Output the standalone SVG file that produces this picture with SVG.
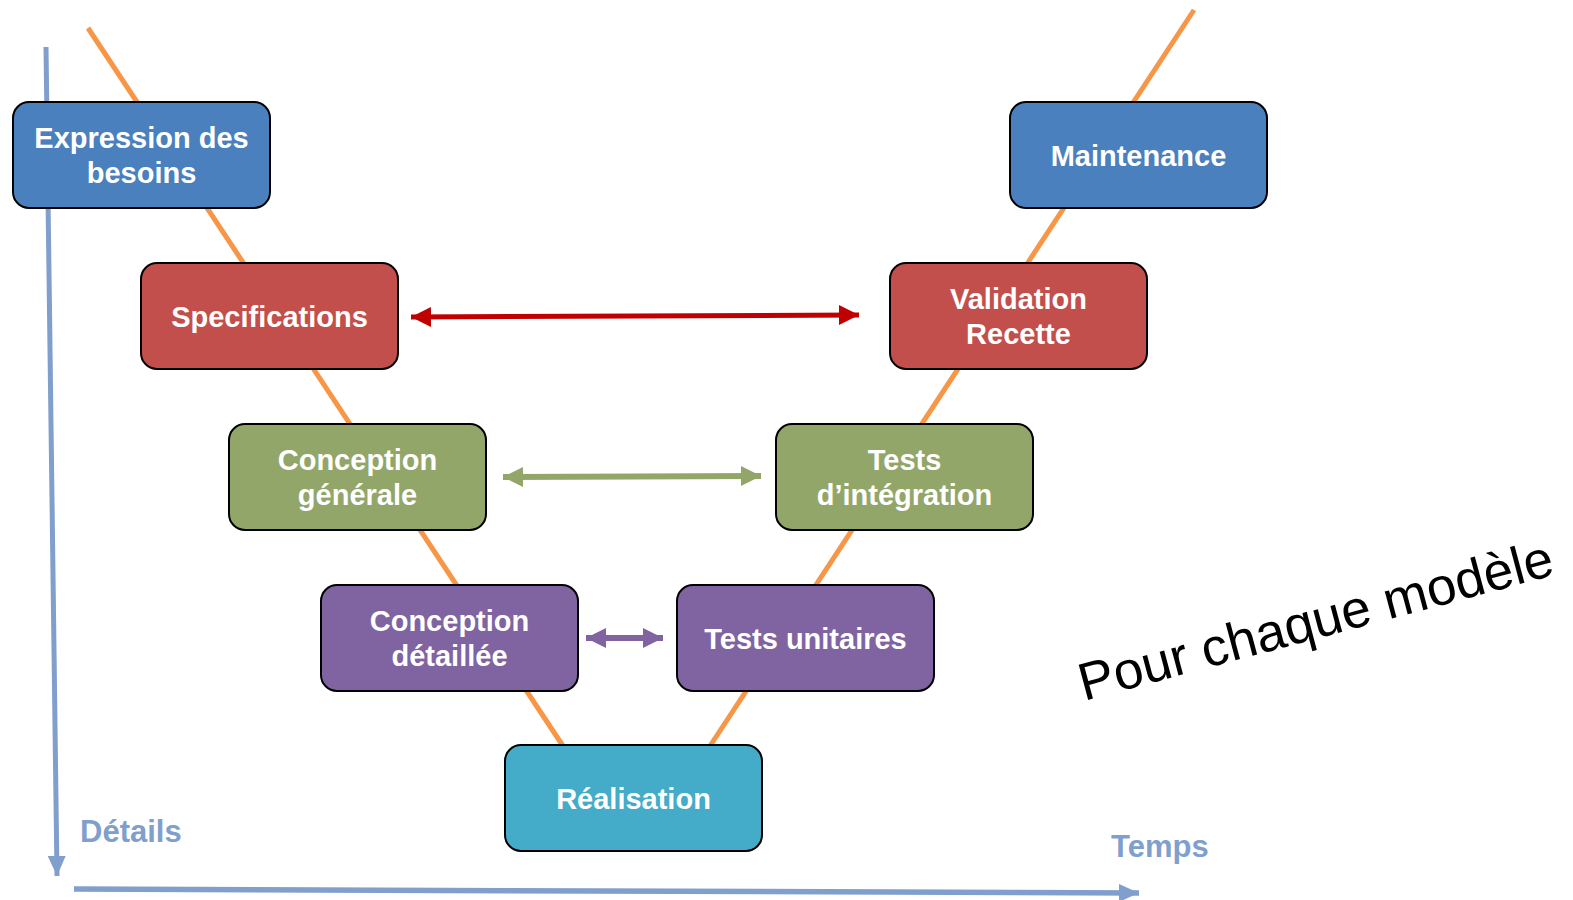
<svg xmlns="http://www.w3.org/2000/svg" width="1573" height="900" viewBox="0 0 1573 900">
<style>
.box{stroke:#000;stroke-width:2}
.lbl{font-family:"Liberation Sans",Arial,sans-serif;font-weight:bold;font-size:29px;fill:#fff;text-anchor:middle}
.ax{font-family:"Liberation Sans",Arial,sans-serif;font-weight:bold;font-size:31px;fill:#809FCC}
.v{stroke:#F79646;stroke-width:5;fill:none}
</style>
<defs>
<marker id="mr" markerUnits="userSpaceOnUse" markerWidth="22" markerHeight="22" refX="20" refY="11" orient="auto-start-reverse" viewBox="0 0 22 22"><path d="M0,1 L20,11 L0,21 Z" fill="#C00000"/></marker>
<marker id="mg" markerUnits="userSpaceOnUse" markerWidth="22" markerHeight="22" refX="20" refY="11" orient="auto-start-reverse" viewBox="0 0 22 22"><path d="M0,1 L20,11 L0,21 Z" fill="#93A66A"/></marker>
<marker id="mp" markerUnits="userSpaceOnUse" markerWidth="22" markerHeight="22" refX="20" refY="11" orient="auto-start-reverse" viewBox="0 0 22 22"><path d="M0,1 L20,11 L0,21 Z" fill="#8064A2"/></marker>
<marker id="ma" markerUnits="userSpaceOnUse" markerWidth="22" markerHeight="22" refX="20" refY="11" orient="auto" viewBox="0 0 22 22"><path d="M0,2 L20,11 L0,20 Z" fill="#809FCC"/></marker>
</defs>
<rect width="1573" height="900" fill="#fff"/>
<g id="connectors">
<line class="v" x1="88" y1="28" x2="563" y2="746"/>
<line class="v" x1="1194" y1="10" x2="710" y2="746"/>
<line x1="411" y1="317" x2="859" y2="315" stroke="#C00000" stroke-width="5" marker-start="url(#mr)" marker-end="url(#mr)"/>
<line x1="503" y1="477" x2="761" y2="476" stroke="#93A66A" stroke-width="6" marker-start="url(#mg)" marker-end="url(#mg)"/>
<line x1="586" y1="638" x2="663" y2="638" stroke="#8064A2" stroke-width="6" marker-start="url(#mp)" marker-end="url(#mp)"/>
<line x1="46" y1="47" x2="57" y2="876" stroke="#809FCC" stroke-width="5" marker-end="url(#ma)"/>
<line x1="74" y1="889" x2="1139" y2="893" stroke="#809FCC" stroke-width="5.5" marker-end="url(#ma)"/>
</g>
<g id="expression">
<rect class="box" x="13" y="102" width="257" height="106" rx="16" fill="#4A80BE"/>
<text class="lbl" x="141.5" y="148">Expression des</text>
<text class="lbl" x="141.5" y="183">besoins</text>
</g>
<g id="specifications">
<rect class="box" x="141" y="263" width="257" height="106" rx="16" fill="#C24F4B"/>
<text class="lbl" x="269.5" y="327">Specifications</text>
</g>
<g id="conception-generale">
<rect class="box" x="229" y="424" width="257" height="106" rx="16" fill="#93A66A"/>
<text class="lbl" x="357.5" y="470">Conception</text>
<text class="lbl" x="357.5" y="505">générale</text>
</g>
<g id="conception-detaillee">
<rect class="box" x="321" y="585" width="257" height="106" rx="16" fill="#8064A2"/>
<text class="lbl" x="449.5" y="631">Conception</text>
<text class="lbl" x="449.5" y="666">détaillée</text>
</g>
<g id="realisation">
<rect class="box" x="505" y="745" width="257" height="106" rx="16" fill="#44ACC8"/>
<text class="lbl" x="633.5" y="809">Réalisation</text>
</g>
<g id="tests-unitaires">
<rect class="box" x="677" y="585" width="257" height="106" rx="16" fill="#8064A2"/>
<text class="lbl" x="805.5" y="649">Tests unitaires</text>
</g>
<g id="tests-integration">
<rect class="box" x="776" y="424" width="257" height="106" rx="16" fill="#93A66A"/>
<text class="lbl" x="904.5" y="470">Tests</text>
<text class="lbl" x="904.5" y="505">d’intégration</text>
</g>
<g id="validation">
<rect class="box" x="890" y="263" width="257" height="106" rx="16" fill="#C24F4B"/>
<text class="lbl" x="1018.5" y="309">Validation</text>
<text class="lbl" x="1018.5" y="344">Recette</text>
</g>
<g id="maintenance">
<rect class="box" x="1010" y="102" width="257" height="106" rx="16" fill="#4A80BE"/>
<text class="lbl" x="1138.5" y="166">Maintenance</text>
</g>
<g id="labels">
<text class="ax" x="80" y="842">Détails</text>
<text class="ax" x="1111" y="857">Temps</text>
<text transform="translate(1084,701) rotate(-15)" font-family="'Liberation Sans',Arial,sans-serif" font-size="53" fill="#000">Pour chaque modèle</text>
</g>
</svg>
